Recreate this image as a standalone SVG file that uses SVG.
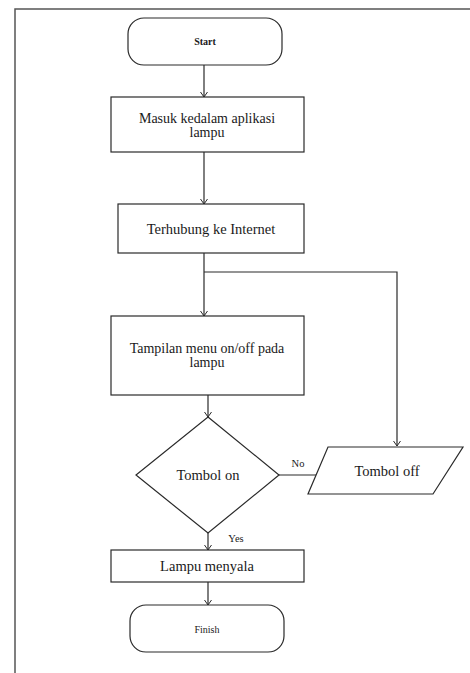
<svg xmlns="http://www.w3.org/2000/svg" width="470" height="673" viewBox="0 0 470 673">
<style>
.s{fill:#fff;stroke:#2a2a2a;stroke-width:1.2}
.c{fill:none;stroke:#2a2a2a;stroke-width:1.2}
text{font-family:"Liberation Serif","DejaVu Serif",serif;fill:#1a1a1a;text-anchor:middle}
.m{font-size:14.5px}
.w{font-size:14px}
.t{font-size:10px}
.l{font-size:10.5px}
</style>
<defs>
<marker id="a" markerWidth="10" markerHeight="10" refX="6" refY="4" orient="auto" markerUnits="userSpaceOnUse">
<path d="M1,0.5 L6,4 L1,7.5" fill="none" stroke="#2a2a2a" stroke-width="1"/>
</marker>
</defs>
<rect width="470" height="673" fill="#fff"/>
<path d="M15,673 V9 H470" fill="none" stroke="#555" stroke-width="1.5"/>
<g id="connectors">
<line class="c" x1="204" y1="65" x2="204" y2="97" marker-end="url(#a)"/>
<line class="c" x1="204" y1="152" x2="204" y2="204" marker-end="url(#a)"/>
<line class="c" x1="204" y1="253" x2="204" y2="316" marker-end="url(#a)"/>
<polyline class="c" points="204,272 397,272 397,446" marker-end="url(#a)"/>
<line class="c" x1="208" y1="395" x2="208" y2="417" marker-end="url(#a)"/>
<line class="c" x1="279" y1="475" x2="324" y2="475" marker-end="url(#a)"/>
<line class="c" x1="208" y1="533" x2="208" y2="550" marker-end="url(#a)"/>
<line class="c" x1="208" y1="582" x2="208" y2="605" marker-end="url(#a)"/>
<text class="l" x="298" y="467" font-family="Liberation Serif, serif">No</text>
<text class="l" x="236" y="542" font-family="Liberation Serif, serif">Yes</text>
</g>
<g id="start">
<rect class="s" x="128" y="18" width="154" height="47" rx="16"/>
<text class="t" x="205" y="45" font-weight="bold" font-family="Liberation Serif, serif">Start</text>
</g>
<g id="masuk">
<rect class="s" x="111" y="97" width="193" height="55"/>
<text class="w" x="207" y="123" font-family="Liberation Serif, serif">Masuk kedalam aplikasi</text>
<text class="w" x="207" y="137" font-family="Liberation Serif, serif">lampu</text>
</g>
<g id="terhubung">
<rect class="s" x="118" y="204" width="186" height="49"/>
<text class="m" x="211" y="234" font-family="Liberation Serif, serif">Terhubung ke Internet</text>
</g>
<g id="tampilan">
<rect class="s" x="111" y="316" width="193" height="79"/>
<text class="w" x="207" y="353" font-family="Liberation Serif, serif">Tampilan menu on/off pada</text>
<text class="w" x="207" y="367" font-family="Liberation Serif, serif">lampu</text>
</g>
<g id="tombolon">
<polygon class="s" points="208,417 279,475 208,533 136,475"/>
<text class="m" x="208" y="480" font-family="Liberation Serif, serif">Tombol on</text>
</g>
<g id="tomboloff">
<polygon class="s" points="328,447 463,447 433,494 308,494"/>
<text class="m" x="387" y="476" font-family="Liberation Serif, serif">Tombol off</text>
</g>
<g id="lampu">
<rect class="s" x="111" y="550" width="193" height="32"/>
<text class="m" x="207" y="571" font-family="Liberation Serif, serif">Lampu menyala</text>
</g>
<g id="finish">
<rect class="s" x="130" y="605" width="154" height="47" rx="16"/>
<text class="t" x="207" y="633" font-family="Liberation Serif, serif">Finish</text>
</g>
</svg>
